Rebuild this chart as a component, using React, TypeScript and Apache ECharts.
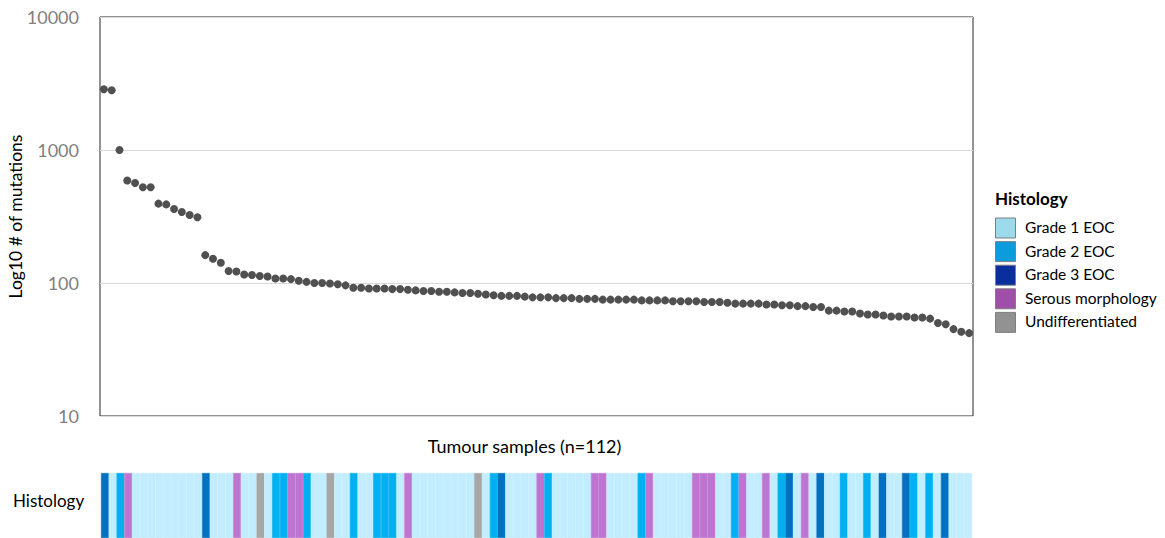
import React, { useEffect, useRef } from "react";
import * as echarts from "echarts";

const mutations: number[] = [
  2860, 2810, 1000, 590, 565, 525, 525, 395, 390, 360, 342, 325, 312, 162, 152, 142, 123, 122, 116, 115, 113, 112, 108, 108,
  107, 104, 102, 100, 100, 99, 98, 96, 92, 92, 91, 91, 91, 90, 90, 89, 88, 87, 87, 86, 86, 85, 84, 84, 83, 82, 81, 80, 80, 80,
  79, 78, 78, 78, 77, 77, 77, 76, 76, 76, 75, 75, 75, 75, 75, 74, 74, 74, 74, 73, 73, 73, 73, 72, 72, 72, 71, 70, 70, 70,
  70, 69, 69, 68, 68, 67, 67, 66, 66, 62, 62, 61, 61, 59, 58, 58, 57, 56, 56, 56, 55, 55, 54, 50, 49, 45, 43, 42,
];

const histology: string[] = [
  "G3", "G1", "G2", "S", "G1", "G1", "G1", "G1", "G1", "G1", "G1", "G1", "G1", "G3", "G1", "G1", "G1", "S", "G1", "G1",
  "U", "G1", "G2", "G2", "S", "S", "G2", "G1", "G1", "U", "G1", "G1", "G2", "G1", "G1", "G2", "G2", "G2", "G1", "S",
  "G1", "G1", "G1", "G1", "G1", "G1", "G1", "G1", "U", "G1", "G2", "G3", "G1", "G1", "G1", "G1", "S", "G2", "G1", "G1",
  "G1", "G1", "G1", "S", "S", "G1", "G1", "G1", "G1", "G2", "S", "G1", "G1", "G1", "G1", "G1", "S", "S", "S", "G1",
  "G1", "G2", "S", "G1", "G1", "S", "G1", "G2", "G3", "G1", "S", "G1", "G3", "G1", "G1", "G2", "G1", "G1", "G2", "G1",
  "G3", "G1", "G1", "G3", "G2", "G1", "G2", "G1", "G3", "G1", "G1", "G1",
];

const histologyCodes: string[] = ["G1", "G2", "G3", "S", "U"];
const legendLabels: string[] = ["Grade 1 EOC", "Grade 2 EOC", "Grade 3 EOC", "Serous morphology", "Undifferentiated"];
const yTickValues: number[] = [10, 100, 1000, 10000];

const barColors: Record<string, string> = {
  G1: "#C1EDFF",
  G2: "#00B0F0",
  G3: "#0070C0",
  S: "#BD75D1",
  U: "#A6A6A6",
};
const legendColors: string[] = ["#9DDAEB", "#0C9BDC", "#0A2E9E", "#A04FA8", "#929292"];

const FONT = "Lato, 'Open Sans', sans-serif";

export default function App() {
  const ref = useRef<HTMLDivElement>(null);
  useEffect(() => {
    if (!ref.current) return;
    const chart = echarts.init(ref.current, undefined, { renderer: "svg" });
    const categories = mutations.map((_, i) => String(i + 1));

    const legendGraphics: any[] = [
      {
        type: "text",
        left: 995,
        top: 190,
        style: { text: "Histology", font: `bold 17px ${FONT}`, fill: "#000" },
      },
    ];
    histologyCodes.forEach((code, i) => {
      const top = 217.5 + i * 23.6;
      legendGraphics.push({
        type: "rect",
        shape: { x: 995.5, y: top + 0.5, width: 20, height: 20 },
        style: { fill: legendColors[i], stroke: "#7f7f7f", lineWidth: 1 },
      });
      legendGraphics.push({
        type: "text",
        left: 1025,
        top: top + 1.5,
        style: { text: legendLabels[i], font: `15.5px ${FONT}`, fill: "#000" },
      });
    });

    chart.setOption({
      animation: false,
      textStyle: { fontFamily: FONT },
      grid: [
        {
          left: 100, top: 17, width: 873, height: 399,
          show: true, borderColor: "#262626", borderWidth: 1, backgroundColor: "transparent",
          outerBoundsMode: "none", containLabel: false,
        },
        { left: 101, top: 473, width: 871, height: 65, outerBoundsMode: "none", containLabel: false },
      ],
      xAxis: [
        {
          type: "category",
          gridIndex: 0,
          data: categories,
          boundaryGap: true,
          axisLine: { show: false },
          axisTick: { show: false },
          axisLabel: { show: false },
          name: "Tumour samples (n=112)",
          nameLocation: "middle",
          nameGap: 21,
          nameTextStyle: { fontSize: 18, color: "#000", fontFamily: FONT, padding: [0, 24, 0, 0] },
        },
        {
          type: "category",
          gridIndex: 1,
          data: categories,
          boundaryGap: true,
          axisLine: { show: false },
          axisTick: { show: false },
          axisLabel: { show: false },
        },
      ],
      yAxis: [
        {
          type: "log",
          gridIndex: 0,
          logBase: 10,
          min: yTickValues[0],
          max: yTickValues[yTickValues.length - 1],
          axisLine: { show: false },
          axisTick: { show: false },
          axisLabel: {
            fontSize: 18, color: "#7f7f7f", margin: 21, fontFamily: FONT,
            formatter: (v: number) => String(Math.round(v)),
          },
          splitLine: { show: true, lineStyle: { color: "#d9d9d9", width: 1 } },
          name: "Log10 # of mutations",
          nameLocation: "middle",
          nameRotate: 90,
          nameGap: 76,
          nameMoveOverlap: false,
          nameTextStyle: { fontSize: 17.5, color: "#000", fontFamily: FONT },
        },
        {
          type: "value",
          gridIndex: 1,
          min: 0,
          max: 1,
          show: false,
        },
      ],
      series: [
        {
          type: "scatter",
          xAxisIndex: 0,
          yAxisIndex: 0,
          data: mutations,
          symbolSize: 8,
          itemStyle: { color: "#505050", opacity: 1 },
        },
        {
          type: "bar",
          xAxisIndex: 1,
          yAxisIndex: 1,
          barWidth: "100%",
          data: histology.map((h) => ({
            value: 1,
            itemStyle: { color: barColors[h], borderColor: barColors[h], borderWidth: 0.6 },
          })),
        },
      ],
      graphic: [
        {
          type: "text",
          left: 13,
          top: 492,
          style: { text: "Histology", font: `17px ${FONT}`, fill: "#000" },
        },
        ...legendGraphics,
      ],
    });
    return () => chart.dispose();
  }, []);
  return (
    <div
      ref={ref}
      style={{ position: "absolute", left: 0, top: 0, width: 1165, height: 538 }}
    />
  );
}
